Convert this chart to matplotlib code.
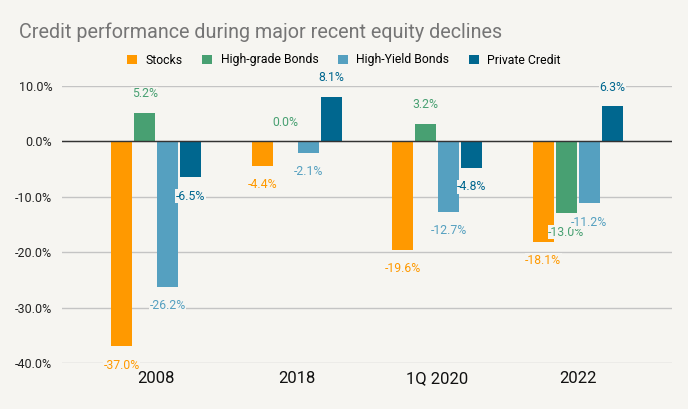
import numpy as np
from matplotlib import pyplot as plt

periods = ['2008', '2018', '1Q 2020', '2022']
series_names = ['Stocks', 'High-grade Bonds', 'High-Yield Bonds', 'Private Credit']
stocks = [-37.0, -4.4, -19.6, -18.1]
high_grade = [5.2, 0.0, 3.2, -13.0]
high_yield = [-26.2, -2.1, -12.7, -11.2]
private_credit = [-6.5, 8.1, -4.8, 6.3]
yticks = [10, 0, -10, -20, -30, -40]

colors = ['#ff9900', '#48a072', '#55a0c0', '#00678f']
bg = '#f6f5f1'

plt.rcParams['font.family'] = ['Roboto', 'DejaVu Sans']

fig = plt.figure(figsize=(6.88, 4.09), dpi=100, facecolor=bg)
ax = fig.add_axes([62 / 688, 1 - 363 / 409, 610 / 688, (363 - 86) / 409])
ax.set_facecolor(bg)

x = np.arange(len(periods))
width = 0.15
step = 0.164
all_series = [stocks, high_grade, high_yield, private_credit]
for i, vals in enumerate(all_series):
    pos = x + (i - 1.5) * step
    ax.bar(pos, vals, width, color=colors[i], label=series_names[i], zorder=3)
    for px, v in zip(pos, vals):
        off = 13.5 if v >= 0 else -13.5
        ax.annotate('%.1f%%' % v, (px, v), xytext=(0, off), textcoords='offset points',
                    ha='center', va='center', fontsize=8.8, color=colors[i], zorder=5,
                    bbox=dict(boxstyle='square,pad=0.05', fc=bg, ec='none'),
                    annotation_clip=False)

ax.set_xlim(-0.67, 3.67)
ax.set_ylim(-40, 10)
ax.set_yticks(yticks)
ax.set_yticklabels(['%.1f%%' % t for t in yticks], fontsize=9, color='#222222')
ax.set_xticks(x)
ax.set_xticklabels(periods, fontsize=12, color='#111111')
ax.tick_params(axis='both', length=0, pad=6)
ax.tick_params(axis='y', pad=7)
ax.grid(axis='y', color='#c4c4c4', linewidth=1, zorder=0)
ax.axhline(0, color='#333333', linewidth=1, zorder=4)
for s in ax.spines.values():
    s.set_visible(False)

fig.text(19 / 688, 1 - 32 / 409, 'Credit performance during major recent equity declines',
         fontsize=14.2, color='#757575', va='center', ha='left')
fig.legend(loc='center', bbox_to_anchor=(344 / 688, 1 - 60 / 409), ncol=4, frameon=False,
           fontsize=8.8, handlelength=0.8, handleheight=0.8, handletextpad=0.7, columnspacing=1.6)

fig.savefig('out.png', dpi=100, facecolor=bg)
